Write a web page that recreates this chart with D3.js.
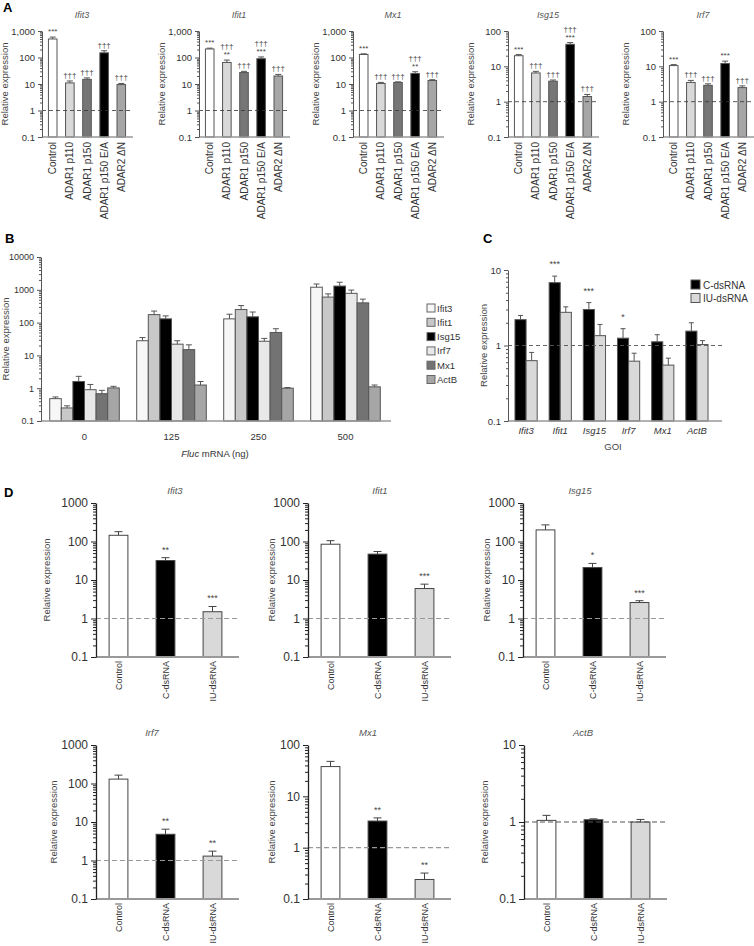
<!DOCTYPE html>
<html>
<head>
<meta charset="utf-8">
<script src="https://cdn.jsdelivr.net/npm/d3@7"></script>
<style>
  body { margin: 0; background: #fff; }
  svg { font-family: "Liberation Sans", Arial, sans-serif; }
</style>
</head>
<body>
<script>
// ---------- panel A ----------
const aGenes = ["Ifit3", "Ifit1", "Mx1", "Isg15", "Irf7"];
const aGroups = ["Control", "ADAR1 p110", "ADAR1 p150", "ADAR1 p150 E/A", "ADAR2 \u0394N"];
const aTop = [1000, 1000, 1000, 100, 100];
const aValues = [
  [500, 11, 15, 150, 9.5],
  [210, 65, 27, 90, 20],
  [130, 10.5, 11.5, 25, 13.5],
  [20, 6.5, 3.8, 42, 1.4],
  [10.5, 3.5, 2.9, 12, 2.5]
];
const aErrors = [
  [90, 2, 2, 30, 1],
  [15, 15, 3, 15, 3],
  [8, 1, 0.5, 4, 1],
  [1.5, 0.7, 0.3, 5, 0.2],
  [0.7, 0.5, 0.3, 2, 0.3]
];
const aSig = [
  [["***"], ["\u2020\u2020\u2020"], ["\u2020\u2020\u2020"], ["\u2020\u2020\u2020"], ["\u2020\u2020\u2020"]],
  [["***"], ["\u2020\u2020\u2020", "**"], ["\u2020\u2020\u2020"], ["\u2020\u2020\u2020", "***"], ["\u2020\u2020\u2020"]],
  [["***"], ["\u2020\u2020\u2020"], ["\u2020\u2020\u2020"], ["\u2020\u2020\u2020", "**"], ["\u2020\u2020\u2020"]],
  [["***"], ["\u2020\u2020\u2020"], ["\u2020\u2020\u2020"], ["\u2020\u2020\u2020", "***"], ["\u2020\u2020\u2020"]],
  [["***"], ["\u2020\u2020\u2020"], ["\u2020\u2020\u2020"], ["***"], ["\u2020\u2020\u2020"]]
];

// ---------- panel B ----------
const bDoses = ["0", "125", "250", "500"];
const bGenes = ["Ifit3", "Ifit1", "Isg15", "Irf7", "Mx1", "ActB"];
const bValues = [
  [0.48, 0.25, 1.6, 0.9, 0.68, 1.02],
  [28, 175, 130, 22, 15, 1.25],
  [130, 250, 150, 27, 50, 1.0],
  [1200, 600, 1300, 780, 400, 1.1]
];
const bErrors = [
  [0.06, 0.04, 0.7, 0.4, 0.18, 0.12],
  [7, 50, 30, 6, 6, 0.35],
  [50, 80, 60, 6, 15, 0.05],
  [300, 150, 400, 200, 120, 0.15]
];

// ---------- panel C ----------
const cGenes = ["Ifit3", "Ifit1", "Isg15", "Irf7", "Mx1", "ActB"];
const cSeries = ["C-dsRNA", "IU-dsRNA"];
const cValuesC = [2.2, 6.8, 3.0, 1.25, 1.12, 1.55];
const cErrorsC = [0.3, 1.5, 0.7, 0.42, 0.27, 0.45];
const cValuesIU = [0.63, 2.75, 1.35, 0.62, 0.55, 1.03];
const cErrorsIU = [0.18, 0.5, 0.55, 0.17, 0.13, 0.13];
const cSig = ["", "***", "***", "*", "", ""];

// ---------- panel D ----------
const dGenes = ["Ifit3", "Ifit1", "Isg15", "Irf7", "Mx1", "ActB"];
const dGroups = ["Control", "C-dsRNA", "IU-dsRNA"];
const dTop = [1000, 1000, 1000, 1000, 100, 10];
const dValues = [
  [145, 32, 1.5],
  [85, 47, 6],
  [200, 21, 2.6],
  [130, 4.8, 1.3],
  [38, 3.3, 0.24],
  [1.05, 1.07, 1.0]
];
const dErrors = [
  [35, 6, 0.55],
  [20, 8, 1.8],
  [70, 6, 0.3],
  [35, 1.7, 0.45],
  [10, 0.5, 0.08],
  [0.17, 0.03, 0.08]
];
const dSig = [
  ["", "**", "***"],
  ["", "", "***"],
  ["", "*", "***"],
  ["", "**", "**"],
  ["", "**", "**"],
  ["", "", ""]
];

const W = 754, H = 946;
const svg = d3.select("body").append("svg").attr("width", W).attr("height", H);

function decades(lo, hi) {
  const out = [];
  for (let e = Math.round(Math.log10(lo)); e <= Math.round(Math.log10(hi)); e++) out.push(Math.pow(10, e));
  return out;
}
function minors(lo, hi) {
  const out = [];
  for (let e = Math.round(Math.log10(lo)); e < Math.round(Math.log10(hi)); e++)
    for (let m = 2; m <= 9; m++) out.push(m * Math.pow(10, e));
  return out;
}

function yAxis(g, y, x0, o) {
  const [lo, hi] = y.domain();
  const mn = g.append("g").attr("transform", `translate(${x0},0)`)
    .call(d3.axisLeft(y).tickValues(minors(lo, hi)).tickFormat("").tickSize(o.minor).tickSizeOuter(0));
  mn.select(".domain").remove();
  mn.selectAll("line").attr("stroke", o.color);
  const ax = g.append("g").attr("transform", `translate(${x0},0)`)
    .call(d3.axisLeft(y).tickValues(decades(lo, hi)).tickFormat(o.fmt).tickSize(o.major).tickPadding(o.pad).tickSizeOuter(0));
  ax.attr("font-family", null).attr("font-size", o.fs);
  ax.select(".domain").attr("stroke", o.color).attr("stroke-width", o.sw);
  ax.selectAll("line").attr("stroke", o.color);
  ax.selectAll("text").attr("fill", "#333");
}

function errBar(g, cx, y0, y1, cap, color) {
  g.append("line").attr("x1", cx).attr("x2", cx).attr("y1", y0).attr("y2", y1).attr("stroke", color);
  g.append("line").attr("x1", cx - cap / 2).attr("x2", cx + cap / 2).attr("y1", y1).attr("y2", y1).attr("stroke", color);
}

// simple (one series) bar chart used in panels A and D
function simpleChart(c) {
  const g = svg.append("g");
  const y = d3.scaleLog().domain([0.1, c.top]).range([c.bottom, c.ytop]);
  const x = d3.scaleBand().domain(c.groups).range(c.band).paddingInner(c.pi).paddingOuter(c.po);

  g.selectAll("rect.bar").data(c.values).enter().append("rect")
    .attr("class", "bar")
    .attr("x", (d, i) => x(c.groups[i]))
    .attr("y", d => y(d))
    .attr("width", x.bandwidth())
    .attr("height", d => c.bottom - y(d))
    .attr("fill", (d, i) => c.colors[i])
    .attr("stroke", c.barStroke).attr("stroke-width", 1);

  c.values.forEach((v, i) => {
    const cx = x(c.groups[i]) + x.bandwidth() / 2;
    const yt = y(v + c.errors[i]);
    errBar(g, cx, y(v), yt, c.cap, c.barStroke);
    const lines = c.sig[i];
    if (!lines) return;
    const arr = Array.isArray(lines) ? lines : [lines];
    arr.slice().reverse().forEach((t, k) => {
      if (!t) return;
      g.append("text").attr("x", cx).attr("y", yt - c.sigGap - k * c.sigLine)
        .attr("text-anchor", "middle").attr("font-size", c.sigFs).attr("fill", "#444").text(t);
    });
  });

  // reference line at 1
  g.append("line").attr("x1", c.x0).attr("x2", c.x0 + c.width)
    .attr("y1", y(1)).attr("y2", y(1))
    .attr("stroke", c.dashColor).attr("stroke-width", c.dashW).attr("stroke-dasharray", c.dash);

  // x axis
  const xa = g.append("g").attr("transform", `translate(0,${c.bottom})`)
    .call(d3.axisBottom(x).tickSize(0).tickPadding(0));
  xa.select(".domain").remove();
  xa.attr("font-family", null).attr("font-size", c.xfs);
  xa.selectAll("text").attr("fill", "#333")
    .attr("transform", "rotate(-90)")
    .attr("text-anchor", "end").attr("dy", "0.35em")
    .attr("x", -c.xgap).attr("y", 0);
  g.append("line").attr("x1", c.x0).attr("x2", c.x0 + c.width)
    .attr("y1", c.bottom).attr("y2", c.bottom)
    .attr("stroke", c.xColor).attr("stroke-width", c.xW);

  yAxis(g, y, c.x0, { minor: c.minor, major: c.major, fmt: c.fmt, fs: c.yfs, color: c.yColor, sw: c.yW, pad: c.ypad });

  g.append("text").attr("transform", `translate(${c.x0 + c.ytitleDx},${(c.ytop + c.bottom) / 2}) rotate(-90)`)
    .attr("text-anchor", "middle").attr("font-size", c.ytitleFs).attr("fill", "#444").text("Relative expression");
  g.append("text").attr("x", c.x0 + c.titleDx).attr("y", c.titleY)
    .attr("text-anchor", "middle").attr("font-size", c.titleFs).attr("font-style", "italic")
    .attr("fill", "#555").text(c.title);
}

// panel labels
[["A", 3, 12], ["B", 5, 243], ["C", 483, 243], ["D", 4, 497]].forEach(([t, x, yy]) =>
  svg.append("text").attr("x", x).attr("y", yy).attr("font-size", 13).attr("font-weight", "bold").text(t));

// ---------- draw panel A ----------
const aX0 = [42, 199, 353, 508, 663];
const aColors = ["#ffffff", "#d9d9d9", "#767676", "#000000", "#a6a6a6"];
const commaFmt = d => d >= 1 ? d3.format(",")(d) : "0.1";
aGenes.forEach((gname, i) => {
  const x0 = aX0[i];
  simpleChart({
    title: gname, titleDx: 40, titleY: 18, titleFs: 9,
    x0: x0, width: 91, ytop: 31, bottom: 137, top: aTop[i],
    groups: aGroups, values: aValues[i], errors: aErrors[i], sig: aSig[i],
    colors: aColors, barStroke: "#555", cap: 6,
    band: [x0 + 3, x0 + 87], pi: 0.5, po: 0.2,
    sigGap: 3, sigLine: 8, sigFs: 8,
    dashColor: "#333", dashW: 0.8, dash: "4,3",
    xfs: 10, xgap: 5, xColor: "#999", xW: 1.5,
    minor: 2, major: 4, fmt: commaFmt, yfs: 9.5, yColor: "#555", yW: 1, ypad: 3,
    ytitleDx: -34, ytitleFs: 9.5
  });
});

// ---------- draw panel B ----------
{
  const g = svg.append("g");
  const x0 = 41, x1 = 389, top = 257, bottom = 421;
  const y = d3.scaleLog().domain([0.1, 10000]).range([bottom, top]);
  const xg = d3.scaleBand().domain(bDoses).range([x0, x1]).paddingInner(0.2).paddingOuter(0.1);
  const xs = d3.scaleBand().domain(bGenes).range([0, xg.bandwidth()]);
  const colors = ["#f7f7f7", "#c8c8c8", "#000000", "#e8e8e8", "#737373", "#a6a6a6"];
  bDoses.forEach((dose, di) => {
    bGenes.forEach((gene, gi) => {
      const v = bValues[di][gi];
      const bx = xg(dose) + xs(gene);
      g.append("rect").attr("x", bx).attr("y", y(v)).attr("width", xs.bandwidth())
        .attr("height", bottom - y(v)).attr("fill", colors[gi]).attr("stroke", "#555").attr("stroke-width", 1);
      errBar(g, bx + xs.bandwidth() / 2, y(v), y(v + bErrors[di][gi]), 6, "#555");
    });
  });
  const xa = g.append("g").attr("transform", `translate(0,${bottom})`)
    .call(d3.axisBottom(xg).tickSize(0).tickPadding(12));
  xa.select(".domain").remove();
  xa.attr("font-family", null).attr("font-size", 9.5);
  xa.selectAll("text").attr("fill", "#333");
  g.append("line").attr("x1", x0).attr("x2", x1 + 2).attr("y1", bottom).attr("y2", bottom)
    .attr("stroke", "#999").attr("stroke-width", 1.5);
  yAxis(g, y, x0, { minor: 2, major: 4, fmt: d => d >= 1 ? d3.format("d")(d) : "0.1", fs: 9, color: "#555", sw: 1, pad: 3 });
  g.append("text").attr("transform", `translate(9,${(top + bottom) / 2}) rotate(-90)`)
    .attr("text-anchor", "middle").attr("font-size", 9.5).attr("fill", "#444").text("Relative expression");
  const xt = g.append("text").attr("x", 215).attr("y", 457).attr("text-anchor", "middle")
    .attr("font-size", 9.5).attr("fill", "#333");
  xt.append("tspan").attr("font-style", "italic").text("Fluc");
  xt.append("tspan").text(" mRNA (ng)");
  // legend
  const lg = g.selectAll("g.leg").data(bGenes).enter().append("g")
    .attr("transform", (d, i) => `translate(427,${304 + i * 14.3})`);
  lg.append("rect").attr("width", 8).attr("height", 8).attr("fill", (d, i) => colors[i]).attr("stroke", "#666");
  lg.append("text").attr("x", 10).attr("y", 7.5).attr("font-size", 9.5).attr("fill", "#333").text(d => d);
}

// ---------- draw panel C ----------
{
  const g = svg.append("g");
  const x0 = 508, x1 = 722, top = 270, bottom = 421;
  const y = d3.scaleLog().domain([0.1, 10]).range([bottom, top]);
  const xg = d3.scaleBand().domain(cGenes).range([509, 714]).paddingInner(0.35).paddingOuter(0.175);
  const xs = d3.scaleBand().domain(cSeries).range([0, xg.bandwidth()]);
  const colors = ["#000000", "#d9d9d9"];
  const vals = [cValuesC, cValuesIU], errs = [cErrorsC, cErrorsIU];
  cGenes.forEach((gene, gi) => {
    cSeries.forEach((s, si) => {
      const v = vals[si][gi];
      const bx = xg(gene) + xs(s);
      g.append("rect").attr("x", bx).attr("y", y(v)).attr("width", xs.bandwidth())
        .attr("height", bottom - y(v)).attr("fill", colors[si]).attr("stroke", "#555").attr("stroke-width", 1);
      const yt = y(v + errs[si][gi]);
      errBar(g, bx + xs.bandwidth() / 2, y(v), yt, 5, "#555");
      if (si === 0 && cSig[gi]) {
        g.append("text").attr("x", bx + xs.bandwidth() / 2).attr("y", yt - 9).attr("text-anchor", "middle")
          .attr("font-size", 9).attr("fill", "#444").text(cSig[gi]);
      }
    });
  });
  g.append("line").attr("x1", x0).attr("x2", x1).attr("y1", y(1)).attr("y2", y(1))
    .attr("stroke", "#555").attr("stroke-width", 0.9).attr("stroke-dasharray", "4,3");
  const xa = g.append("g").attr("transform", `translate(0,${bottom})`)
    .call(d3.axisBottom(xg).tickSize(0).tickPadding(6));
  xa.select(".domain").remove();
  xa.attr("font-family", null).attr("font-size", 9.5);
  xa.selectAll("text").attr("fill", "#333").attr("font-style", "italic");
  g.append("line").attr("x1", x0).attr("x2", x1).attr("y1", bottom).attr("y2", bottom)
    .attr("stroke", "#999").attr("stroke-width", 1.5);
  yAxis(g, y, x0, { minor: 2, major: 4, fmt: d => d >= 1 ? d3.format("d")(d) : "0.1", fs: 9.5, color: "#555", sw: 1, pad: 3 });
  g.append("text").attr("transform", `translate(487,${(top + bottom) / 2}) rotate(-90)`)
    .attr("text-anchor", "middle").attr("font-size", 9.5).attr("fill", "#444").text("Relative expression");
  g.append("text").attr("x", 613).attr("y", 450).attr("text-anchor", "middle")
    .attr("font-size", 9.5).attr("fill", "#444").text("GOI");
  const lg = g.selectAll("g.leg").data(cSeries).enter().append("g")
    .attr("transform", (d, i) => `translate(691,${280 + i * 13.5})`);
  lg.append("rect").attr("width", 9).attr("height", 9).attr("fill", (d, i) => colors[i]).attr("stroke", "#555");
  lg.append("text").attr("x", 12).attr("y", 8.5).attr("font-size", 10).attr("fill", "#333").text(d => d);
}

// ---------- draw panel D ----------
const dX0 = [96, 308, 523, 96, 308, 524];
const dRowTop = [503, 503, 503, 745, 745, 745];
const dTitleDx = [79, 72, 57, 56, 60, 59];
const dYTitleDx = [-46, -33, -33, -39, -33, -36];
const dColors = ["#ffffff", "#000000", "#d9d9d9"];
dGenes.forEach((gname, i) => {
  const x0 = dX0[i];
  const t = dRowTop[i];
  simpleChart({
    title: gname, titleDx: dTitleDx[i], titleY: t - 9, titleFs: 9.5,
    x0: x0, width: 143, ytop: t, bottom: t + 154, top: dTop[i],
    groups: dGroups, values: dValues[i], errors: dErrors[i], sig: dSig[i],
    colors: dColors, barStroke: "#444", cap: 8,
    band: [x0 - 1, x0 + 140], pi: 0.6, po: 0.3,
    sigGap: 5, sigLine: 9, sigFs: 9,
    dashColor: i === 5 ? "#555" : "#999", dashW: 1.1, dash: "5,3",
    xfs: 9, xgap: 4, xColor: "#999", xW: 2,
    minor: 3, major: 5, fmt: d => d >= 1 ? d3.format("d")(d) : "0.1", yfs: 12, yColor: "#222", yW: 1.3, ypad: 3,
    ytitleDx: dYTitleDx[i], ytitleFs: 9.5
  });
});
</script>
</body>
</html>
